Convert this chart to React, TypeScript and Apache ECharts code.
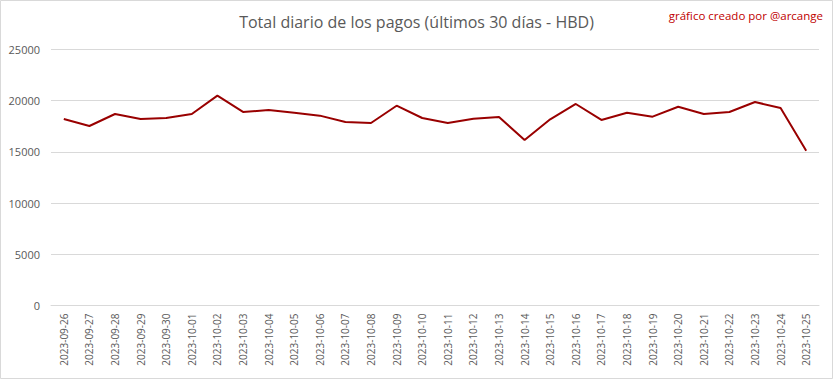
import React, { useEffect, useRef } from "react";
import * as echarts from "echarts";

const categories = [
  "2023-09-26", "2023-09-27", "2023-09-28", "2023-09-29", "2023-09-30",
  "2023-10-01", "2023-10-02", "2023-10-03", "2023-10-04", "2023-10-05",
  "2023-10-06", "2023-10-07", "2023-10-08", "2023-10-09", "2023-10-10",
  "2023-10-11", "2023-10-12", "2023-10-13", "2023-10-14", "2023-10-15",
  "2023-10-16", "2023-10-17", "2023-10-18", "2023-10-19", "2023-10-20",
  "2023-10-21", "2023-10-22", "2023-10-23", "2023-10-24", "2023-10-25",
];

const totals = [
  18210, 17530, 18700, 18210, 18310,
  18700, 20490, 18900, 19090, 18830,
  18540, 17920, 17820, 19510, 18310,
  17820, 18240, 18410, 16160, 18180,
  19680, 18120, 18830, 18440, 19410,
  18700, 18900, 19870, 19290, 15120,
];

const titleText = "Total diario de los pagos (últimos 30 días - HBD)";
const creditText = "gráfico creado por @arcange";

export default function App() {
  const ref = useRef<HTMLDivElement>(null);
  useEffect(() => {
    if (!ref.current) return;
    const chart = echarts.init(ref.current, null, { renderer: "svg" });
    chart.setOption({
      animation: false,
      backgroundColor: "#ffffff",
      title: {
        text: titleText,
        left: "center",
        top: 9,
        textStyle: {
          fontFamily: "Open Sans",
          fontSize: 16,
          fontWeight: "normal",
          color: "#595959",
        },
      },
      graphic: [
        {
          type: "rect",
          shape: { x: 0.5, y: 0.5, width: 832, height: 378 },
          style: { fill: "none", stroke: "#d9d9d9", lineWidth: 1 },
          silent: true,
        },
        {
          type: "text",
          right: 10,
          top: 9,
          style: {
            text: creditText,
            fill: "#c00000",
            fontFamily: "Open Sans",
            fontSize: 11.5,
          },
        },
      ],
      grid: { left: 51, right: 14, top: 49.5, bottom: 73.5, containLabel: false },
      xAxis: {
        type: "category",
        data: categories,
        boundaryGap: true,
        axisLine: { show: true, lineStyle: { color: "#d9d9d9" } },
        axisTick: { show: false },
        axisLabel: {
          rotate: 90,
          interval: 0,
          margin: 8,
          color: "#595959",
          fontFamily: "Open Sans",
          fontSize: 10,
        },
      },
      yAxis: {
        type: "value",
        min: 0,
        max: 25000,
        interval: 5000,
        axisLine: { show: false },
        axisTick: { show: false },
        splitLine: { lineStyle: { color: "#d9d9d9" } },
        axisLabel: {
          color: "#595959",
          fontFamily: "Open Sans",
          fontSize: 11,
          margin: 11,
          formatter: (v: number) => String(v),
        },
      },
      series: [
        {
          type: "line",
          data: totals,
          symbol: "none",
          lineStyle: { color: "#990000", width: 2 },
        },
      ],
    });
    return () => chart.dispose();
  }, []);
  return (
    <div
      ref={ref}
      style={{ position: "fixed", left: 0, top: 0, width: 833, height: 379 }}
    />
  );
}
